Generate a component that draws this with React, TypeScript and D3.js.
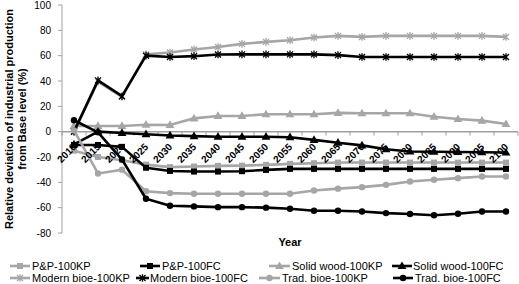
import React, { useRef, useEffect } from 'react';
import * as d3 from 'd3';

const years = ["2010", "2015", "2020", "2025", "2030", "2035", "2040", "2045", "2050", "2055",
    "2060", "2065", "2070", "2075", "2080", "2085", "2090", "2095", "2100"];

const ppKP = [-15, -20, -22.5, -26, -28, -27.5, -27, -26.8, -26.2, -25.4, -24.9, -24.4, -24.4, -24.4, -24.4, -24.4, -24.4, -24.4, -24.4];
const ppFC = [-10.5, -10.5, -12, -28.5, -31, -31.5, -31.5, -31.2, -30.2, -29.4, -29.4, -29.4, -29.4, -29.4, -29.4, -29.4, -29.4, -29.4, -29.4];
const solidKP = [4.5, 4.5, 4.5, 5.5, 5.3, 10.5, 12.4, 12.4, 13.7, 13.7, 13.7, 14.8, 14.5, 14.5, 14.5, 11.8, 10, 8.7, 6];
const solidFC = [-10, 0, -1, -2, -3, -3.5, -4, -4, -4, -4.4, -6.5, -8.7, -10.8, -13.9, -15.7, -15.9, -16, -16.2, -16.5];
const modernKP = [0, 39.5, 27.5, 61, 62.5, 64.9, 66.9, 69.3, 70.9, 72.2, 74.3, 75.6, 74.8, 75.6, 75.6, 75.6, 75.6, 75.6, 74.8];
const modernFC = [0, 40.5, 28, 60, 59, 59.6, 60.9, 61, 61, 61, 61, 60.4, 59, 59, 59, 59, 59, 59, 59];
const tradKP = [1, -33, -30, -47, -48.5, -49, -49, -49, -49, -49, -46.4, -45, -43.8, -42, -39.4, -38, -36.7, -35.4, -35.4];
const tradFC = [9, -0.5, -22, -53, -58.5, -59, -59.6, -59.6, -60, -60.9, -62.4, -62.4, -63, -64.3, -65, -66, -64.8, -63, -63];

const seriesNames = ["P&P-100KP", "P&P-100FC", "Solid wood-100KP", "Solid wood-100FC",
    "Modern bioe-100KP", "Modern bioe-100FC", "Trad. bioe-100KP", "Trad. bioe-100FC"];
const seriesValues = [ppKP, ppFC, solidKP, solidFC, modernKP, modernFC, tradKP, tradFC];
const seriesMarkers = ["square", "square", "triangle", "triangle", "asterisk", "asterisk", "circle", "circle"];

const yTicks = [-80, -60, -40, -20, 0, 20, 40, 60, 80, 100];

const GRAY = "#a6a6a6";
const BLACK = "#000000";
const AXIS = "#a0a0a0";
const FONT = "'Liberation Sans', Arial, sans-serif";

// legend layout: [lineStart, lineEnd, textStart, rowY]
const legendLayout = [
    [10, 30, 32, 266], [140, 160, 162, 266], [269, 290, 292, 266], [392, 412, 413, 266],
    [10, 30, 32, 278], [136, 149, 150, 278], [259, 280, 282, 278], [393, 413, 415, 278],
];

type Sel = d3.Selection<SVGGElement, unknown, null, undefined>;

function drawMarker(g: Sel, type: string, x: number, y: number, color: string) {
    if (type === "square") {
        g.append("rect").attr("x", x - 3).attr("y", y - 3).attr("width", 6).attr("height", 6).attr("fill", color);
    } else if (type === "triangle") {
        g.append("path").attr("d", d3.symbol(d3.symbolTriangle, 34)()).attr("transform", `translate(${x},${y + 0.5})`).attr("fill", color);
    } else if (type === "circle") {
        g.append("circle").attr("cx", x).attr("cy", y).attr("r", 3.2).attr("fill", color);
    } else {
        g.append("path")
            .attr("d", "M-3,-3L3,3M-3,3L3,-3M0,-3.8L0,3.8")
            .attr("transform", `translate(${x},${y})`)
            .attr("stroke", color).attr("stroke-width", 1.3).attr("fill", "none");
    }
}

export default function App() {
    const svgRef = useRef<SVGSVGElement>(null);
    const width = 519, height = 284;

    useEffect(() => {
        if (!svgRef.current) return;
        const svg = d3.select(svgRef.current);
        svg.selectAll("*").remove();

        const left = 62, right = 518, top = 5, bottom = 233;

        const x = d3.scaleBand<string>().domain(years).range([left, right]).padding(0);
        const cx = (yr: string) => (x(yr) || 0) + x.bandwidth() / 2;
        const y = d3.scaleLinear().domain([-80, 100]).range([bottom, top]);

        const g = svg.append("g") as unknown as Sel;

        // y axis
        g.append("line").attr("x1", left).attr("x2", left).attr("y1", top).attr("y2", bottom)
            .attr("stroke", AXIS).attr("stroke-width", 1);
        yTicks.forEach(t => {
            g.append("line").attr("x1", left - 4).attr("x2", left).attr("y1", y(t)).attr("y2", y(t))
                .attr("stroke", AXIS);
            g.append("text").attr("x", 51).attr("y", y(t) + 3.5).attr("text-anchor", "end")
                .attr("font-family", FONT).attr("font-size", "10px").attr("fill", "#000").text(String(t));
        });

        // x axis at zero
        g.append("line").attr("x1", left).attr("x2", right).attr("y1", y(0)).attr("y2", y(0))
            .attr("stroke", AXIS).attr("stroke-width", 1.5);
        years.forEach((yr, i) => {
            const bx = x(yr) || 0;
            g.append("line").attr("x1", bx).attr("x2", bx).attr("y1", y(0)).attr("y2", y(0) + 4).attr("stroke", AXIS);
            if (i === years.length - 1) {
                g.append("line").attr("x1", right).attr("x2", right).attr("y1", y(0)).attr("y2", y(0) + 4).attr("stroke", AXIS);
            }
        });

        // series
        const line = d3.line<number>().x((_, i) => cx(years[i])).y(d => y(d));
        seriesValues.forEach((vals, si) => {
            const color = si % 2 === 0 ? GRAY : BLACK;
            g.append("path").datum(vals).attr("d", line).attr("fill", "none")
                .attr("stroke", color).attr("stroke-width", 2.6).attr("stroke-linejoin", "round");
            vals.forEach((v, i) => drawMarker(g, seriesMarkers[si], cx(years[i]), y(v), color));
        });

        // x tick labels
        years.forEach(yr => {
            g.append("text")
                .attr("transform", `translate(${cx(yr) + 3},${y(0) + 16}) rotate(-45)`)
                .attr("text-anchor", "end")
                .attr("font-family", FONT).attr("font-size", "10px").attr("font-weight", "bold")
                .attr("fill", "#000").text(yr);
        });

        // axis titles
        g.append("text").attr("x", 290).attr("y", 246).attr("text-anchor", "middle")
            .attr("font-family", FONT).attr("font-size", "11px").attr("font-weight", "bold").text("Year");
        const ty = g.append("text").attr("transform", `translate(13,119) rotate(-90)`).attr("text-anchor", "middle")
            .attr("font-family", FONT).attr("font-size", "11px").attr("font-weight", "bold");
        ty.append("tspan").attr("x", 0).attr("y", 0).text("Relative deviation of industrial production");
        ty.append("tspan").attr("x", 0).attr("y", 13).text("from Base level (%)");

        // legend
        seriesNames.forEach((name, i) => {
            const [x0, x1, tx, ly] = legendLayout[i];
            const color = i % 2 === 0 ? GRAY : BLACK;
            g.append("line").attr("x1", x0).attr("x2", x1).attr("y1", ly).attr("y2", ly)
                .attr("stroke", color).attr("stroke-width", 2.6);
            drawMarker(g, seriesMarkers[i], (x0 + x1) / 2, ly, color);
            g.append("text").attr("x", tx).attr("y", ly + 4).attr("font-family", FONT)
                .attr("font-size", "11px").attr("fill", "#000").text(name);
        });
    }, []);

    return (
        <div style={{ position: "absolute", left: 0, top: 0, width, height, background: "#fff" }}>
            <svg ref={svgRef} width={width} height={height} viewBox={`0 0 ${width} ${height}`} />
        </div>
    );
}
